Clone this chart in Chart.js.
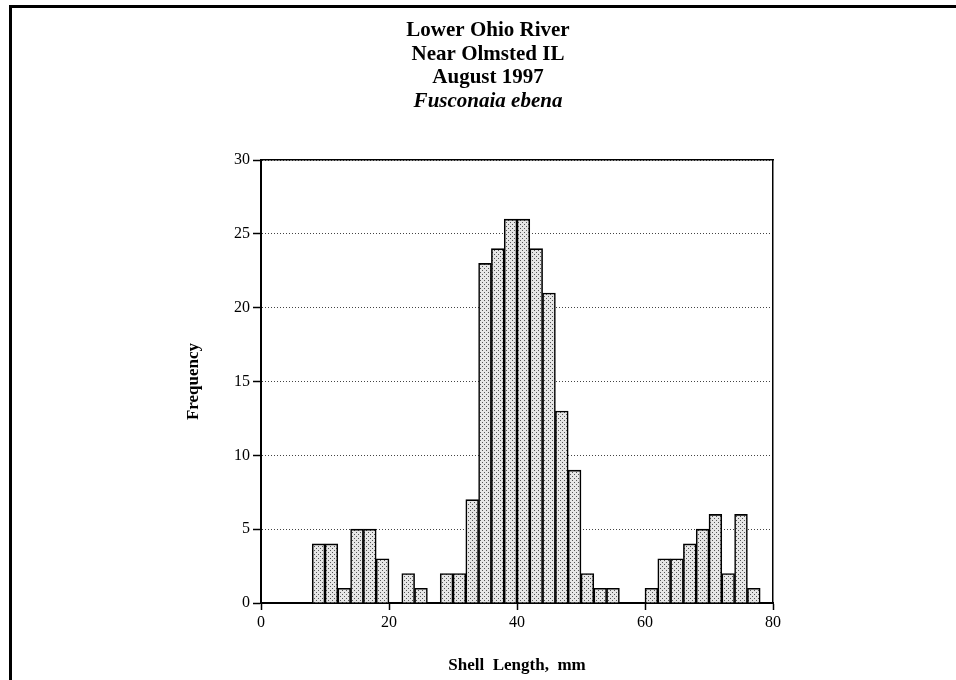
<!DOCTYPE html>
<html>
<head>
<meta charset="utf-8">
<title>Fusconaia ebena - shell length</title>
<script src="https://cdn.jsdelivr.net/npm/chart.js@4/dist/chart.umd.min.js"></script>
<style>
  html, body { margin: 0; padding: 0; background: #fff; }
  #wrap { position: relative; width: 956px; height: 680px; overflow: hidden; }
  #frame { position: absolute; left: 9px; top: 5px; right: -5px; bottom: -5px;
           border-top: 3px solid #000; border-left: 3px solid #000; pointer-events: none; }
  canvas { position: absolute; left: 0; top: 0; }
</style>
</head>
<body>
<div id="wrap">
  <canvas id="histChart" width="956" height="680"></canvas>
  <div id="frame"></div>
</div>
<script>
// Data: 2 mm bins, value = start of bin (mm)
const binStarts = [8, 10, 12, 14, 16, 18, 20, 22, 24, 26, 28, 30, 32, 34, 36, 38, 40, 42,
                   44, 46, 48, 50, 52, 54, 56, 58, 60, 62, 64, 66, 68, 70, 72, 74, 76];
const frequency = [4, 4, 1, 5, 5, 3, 0, 2, 1, 0, 2, 2, 7, 23, 24, 26, 26, 24,
                   21, 13, 9, 2, 1, 1, 0, 0, 1, 3, 3, 4, 5, 6, 2, 6, 1];
const binWidth = 2;
const xTicks = [0, 20, 40, 60, 80];
const yTicks = [0, 5, 10, 15, 20, 25, 30];
const titleLines = ['Lower Ohio River', 'Near Olmsted IL', 'August 1997'];
const speciesName = 'Fusconaia ebena';
const xTitle = 'Shell  Length,  mm';
const yTitle = 'Frequency';

Chart.defaults.color = '#000';
Chart.defaults.font.family = '"Liberation Serif", "DejaVu Serif", serif';

const ctx = document.getElementById('histChart').getContext('2d');

// dotted grey fill like the printed bars
function stipple() {
  const c = document.createElement('canvas');
  c.width = 4; c.height = 4;
  const g = c.getContext('2d');
  g.fillStyle = '#e6e6e6';
  g.fillRect(0, 0, 4, 4);
  g.fillStyle = '#555';
  g.fillRect(0, 0, 1, 1);
  g.fillRect(2, 2, 1, 1);
  return ctx.createPattern(c, 'repeat');
}

const chart = new Chart(ctx, {
  type: 'bar',
  data: {
    datasets: [{
      label: yTitle,
      data: binStarts.map((b, i) => ({ x: b + binWidth / 2, y: frequency[i] })),
      backgroundColor: stipple(),
      borderColor: '#000',
      borderWidth: 1.6,
      barPercentage: 1,
      categoryPercentage: 1
    }]
  },
  options: {
    responsive: false,
    animation: false,
    layout: { padding: { left: 183, right: 163, top: 0, bottom: 0 } },
    plugins: {
      legend: { display: false },
      tooltip: { enabled: false },
      title: {
        display: true,
        text: titleLines,
        font: { size: 21, weight: 'bold', lineHeight: 1.12 },
        padding: { top: 19, bottom: 0 }
      },
      subtitle: {
        display: true,
        text: speciesName,
        color: '#000',
        font: { size: 21, weight: 'bold', style: 'italic', lineHeight: 1.12 },
        padding: { top: 0, bottom: 47 }
      }
    },
    scales: {
      x: {
        type: 'linear',
        position: 'bottom',
        min: 0,
        max: 80,
        offset: false,
        z: 1,
        afterBuildTicks: axis => { axis.ticks = xTicks.map(v => ({ value: v })); },
        afterFit: axis => { axis.height = 77; },
        ticks: { font: { size: 16 }, padding: 3, maxRotation: 0 },
        grid: { offset: false, drawOnChartArea: false, tickLength: 7, tickColor: '#000', tickWidth: 1.5 },
        border: { color: '#000', width: 2 },
        title: {
          display: true,
          text: xTitle,
          font: { size: 17, weight: 'bold' },
          padding: { top: 0, bottom: 4 }
        }
      },
      y: {
        min: 0,
        max: 30,
        afterBuildTicks: axis => { axis.ticks = yTicks.map(v => ({ value: v })); },
        afterFit: axis => { axis.width = 78; },
        ticks: { font: { size: 16 }, padding: 3 },
        grid: { color: '#444', lineWidth: 1, tickLength: 8, tickColor: '#000', tickWidth: 1.5 },
        border: { color: '#000', width: 2, dash: [1, 2] },
        title: {
          display: true,
          text: yTitle,
          font: { size: 17, weight: 'bold' },
          padding: { top: 0, bottom: 0 }
        }
      },
      // plain frame on the top and right of the plot
      xTop: {
        type: 'linear',
        position: 'top',
        min: 0,
        max: 80,
        offset: false,
        z: 1,
        afterFit: axis => { axis.height = 0; },
        ticks: { display: false },
        grid: { drawOnChartArea: false, drawTicks: false },
        border: { color: '#000', width: 1.5 }
      },
      yRight: {
        type: 'linear',
        position: 'right',
        min: 0,
        max: 30,
        afterFit: axis => { axis.width = 20; },
        ticks: { display: false },
        grid: { drawOnChartArea: false, drawTicks: false },
        border: { color: '#000', width: 1.5 }
      }
    }
  }
});
</script>
</body>
</html>
